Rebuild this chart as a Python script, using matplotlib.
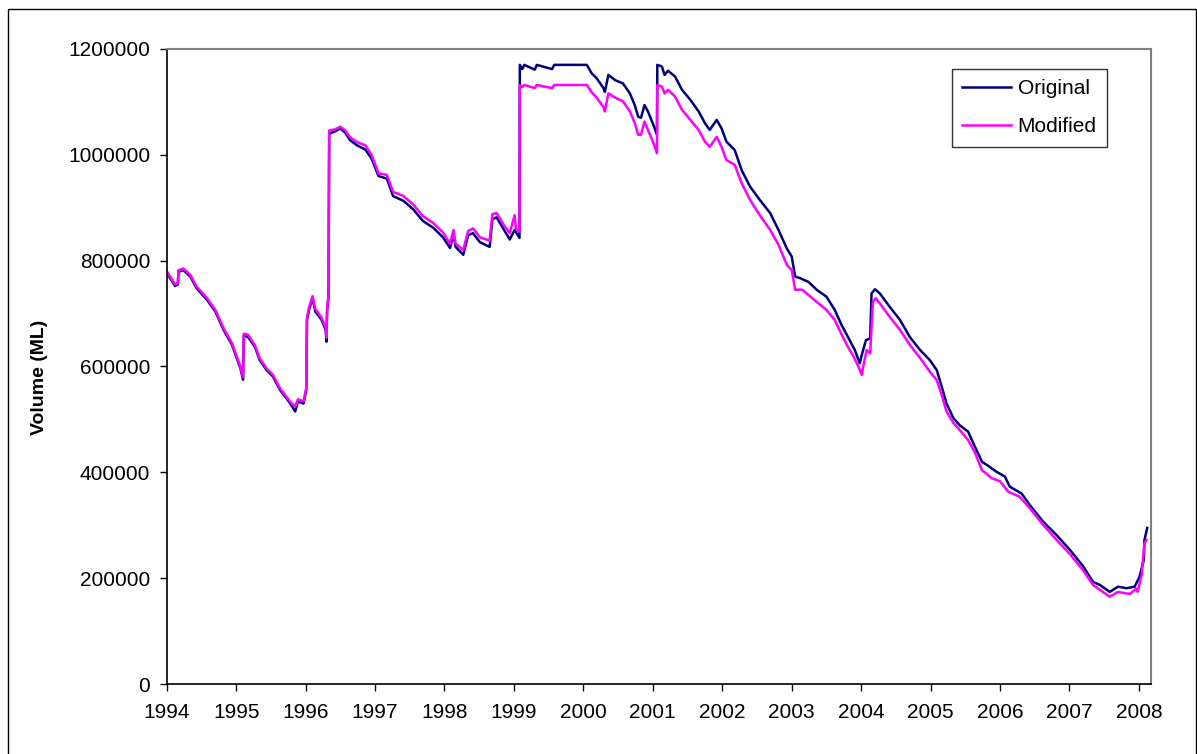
import matplotlib
matplotlib.use("Agg")
import matplotlib.pyplot as plt
from matplotlib.patches import Rectangle
from matplotlib.ticker import FuncFormatter

# ---- data (decimal year, volume in thousand ML) ----
orig_years = [1994.01, 1994.12, 1994.16, 1994.17, 1994.24, 1994.34, 1994.43, 1994.58, 1994.70, 1994.82,
              1994.94, 1995.06, 1995.10, 1995.11, 1995.17, 1995.27, 1995.34, 1995.44, 1995.53, 1995.63,
              1995.78, 1995.85, 1995.89, 1995.97, 1996.01, 1996.02, 1996.05, 1996.10, 1996.14, 1996.23,
              1996.29, 1996.30, 1996.31, 1996.33, 1996.34, 1996.42, 1996.50, 1996.57, 1996.64, 1996.74,
              1996.86, 1996.95, 1997.05, 1997.17, 1997.26, 1997.41, 1997.55, 1997.69, 1997.84, 1997.98,
              1998.08, 1998.13, 1998.16, 1998.27, 1998.34, 1998.41, 1998.51, 1998.65, 1998.69, 1998.75,
              1998.85, 1998.94, 1999.01, 1999.08, 1999.085, 1999.12, 1999.15, 1999.30, 1999.33, 1999.55,
              1999.58, 2000.05, 2000.12, 2000.19, 2000.29, 2000.31, 2000.36, 2000.46, 2000.57, 2000.67,
              2000.74, 2000.79, 2000.83, 2000.88, 2000.93, 2001.01, 2001.06, 2001.065, 2001.13, 2001.17,
              2001.22, 2001.32, 2001.42, 2001.54, 2001.66, 2001.75, 2001.82, 2001.92, 2001.99, 2002.06,
              2002.18, 2002.28, 2002.40, 2002.54, 2002.69, 2002.81, 2002.93, 2003.00, 2003.05, 2003.12,
              2003.24, 2003.36, 2003.50, 2003.62, 2003.72, 2003.81, 2003.91, 2003.98, 2004.01, 2004.07,
              2004.13, 2004.15, 2004.20, 2004.27, 2004.41, 2004.56, 2004.70, 2004.85, 2004.99, 2005.09,
              2005.16, 2005.23, 2005.33, 2005.42, 2005.54, 2005.64, 2005.74, 2005.81, 2005.95, 2006.07,
              2006.14, 2006.31, 2006.43, 2006.62, 2006.81, 2007.01, 2007.20, 2007.34, 2007.44, 2007.58,
              2007.70, 2007.82, 2007.94, 2008.01, 2008.07, 2008.08, 2008.12]
orig_kml = [775, 752, 755, 779, 782, 770, 748, 726, 704, 669,
            641, 597, 575, 658, 656, 637, 612, 593, 581, 556,
            530, 515, 534, 530, 556, 688, 707, 729, 704, 688,
            669, 647, 705, 732, 1040, 1044, 1050, 1042, 1028, 1018,
            1010, 993, 960, 955, 922, 913, 897, 875, 862, 844,
            824, 850, 826, 811, 848, 852, 835, 826, 878, 882,
            860, 840, 858, 843, 1170, 1162, 1170, 1161, 1170, 1162,
            1170, 1170, 1154, 1145, 1126, 1119, 1151, 1141, 1135, 1116,
            1094, 1072, 1070, 1094, 1082, 1056, 1038, 1170, 1167, 1151,
            1159, 1148, 1123, 1104, 1082, 1060, 1047, 1066, 1050, 1025,
            1009, 971, 940, 915, 890, 858, 823, 808, 770, 767,
            760, 745, 732, 707, 678, 656, 631, 606, 622, 650,
            653, 738, 746, 738, 713, 688, 656, 631, 612, 593,
            562, 530, 502, 489, 477, 448, 420, 414, 401, 392,
            373, 360, 338, 307, 282, 253, 222, 193, 187, 174,
            184, 181, 184, 203, 234, 272, 295]

mod_years = [1994.01, 1994.12, 1994.16, 1994.17, 1994.24, 1994.34, 1994.43, 1994.58, 1994.70, 1994.82,
             1994.94, 1995.06, 1995.10, 1995.11, 1995.17, 1995.27, 1995.34, 1995.44, 1995.53, 1995.63,
             1995.78, 1995.85, 1995.89, 1995.97, 1996.01, 1996.02, 1996.05, 1996.10, 1996.14, 1996.23,
             1996.29, 1996.30, 1996.31, 1996.33, 1996.34, 1996.42, 1996.50, 1996.57, 1996.64, 1996.74,
             1996.86, 1996.95, 1997.05, 1997.17, 1997.26, 1997.41, 1997.55, 1997.69, 1997.84, 1997.98,
             1998.08, 1998.13, 1998.16, 1998.27, 1998.34, 1998.41, 1998.51, 1998.65, 1998.69, 1998.75,
             1998.85, 1998.94, 1999.01, 1999.03, 1999.08, 1999.085, 1999.12, 1999.15, 1999.30, 1999.33,
             1999.55, 1999.58, 2000.05, 2000.12, 2000.19, 2000.29, 2000.31, 2000.36, 2000.46, 2000.57,
             2000.67, 2000.74, 2000.79, 2000.83, 2000.88, 2000.93, 2001.01, 2001.06, 2001.065, 2001.13,
             2001.17, 2001.22, 2001.32, 2001.42, 2001.54, 2001.66, 2001.75, 2001.82, 2001.92, 2001.99,
             2002.06, 2002.18, 2002.28, 2002.40, 2002.54, 2002.69, 2002.81, 2002.93, 2003.00, 2003.05,
             2003.15, 2003.36, 2003.50, 2003.62, 2003.72, 2003.81, 2003.89, 2003.96, 2004.01, 2004.03,
             2004.08, 2004.13, 2004.17, 2004.21, 2004.27, 2004.41, 2004.56, 2004.70, 2004.85, 2004.99,
             2005.09, 2005.16, 2005.23, 2005.33, 2005.42, 2005.54, 2005.64, 2005.74, 2005.88, 2006.00,
             2006.12, 2006.28, 2006.43, 2006.62, 2006.81, 2007.01, 2007.20, 2007.34, 2007.48, 2007.58,
             2007.70, 2007.87, 2007.96, 2007.98, 2008.04, 2008.08, 2008.11]
mod_kml = [778, 755, 758, 782, 785, 773, 751, 729, 707, 672,
           644, 600, 580, 662, 660, 640, 615, 596, 584, 559,
           533, 524, 538, 534, 560, 692, 712, 733, 709, 692,
           673, 655, 710, 735, 1046, 1048, 1053, 1046, 1033, 1024,
           1018, 1000, 965, 962, 930, 922, 906, 884, 871, 853,
           832, 858, 832, 820, 856, 861, 844, 838, 888, 890,
           868, 852, 886, 860, 855, 1132, 1128, 1132, 1126, 1132,
           1126, 1132, 1132, 1118, 1108, 1090, 1082, 1116, 1108, 1101,
           1082, 1060, 1038, 1038, 1063, 1047, 1022, 1003, 1132, 1129,
           1116, 1123, 1110, 1085, 1066, 1047, 1025, 1015, 1034, 1015,
           990, 981, 946, 915, 886, 858, 830, 792, 782, 745,
           745, 722, 707, 688, 660, 637, 619, 600, 584, 600,
           631, 625, 722, 729, 719, 694, 669, 641, 616, 590,
           574, 546, 515, 493, 480, 461, 437, 404, 389, 383,
           363, 354, 332, 301, 273, 245, 214, 187, 174, 165,
           174, 170, 180, 174, 206, 266, 272]

series_names = ["Original", "Modified"]
x_ticks = list(range(1994, 2009))
y_ticks = [0, 200000, 400000, 600000, 800000, 1000000, 1200000]

# ---- figure ----
W, H = 1197, 754
fig = plt.figure(figsize=(W / 100, H / 100), dpi=100)
plt.rcParams['font.family'] = ['Liberation Sans', 'DejaVu Sans']

ax = fig.add_axes([166.7 / W, 1 - 684 / H, (1150.7 - 166.7) / W, (684 - 49) / H])

ax.plot(orig_years, [v * 1000 for v in orig_kml], color='#000080', lw=1.8, label=series_names[0])
ax.plot(mod_years, [v * 1000 for v in mod_kml], color='#FF00FF', lw=1.8, label=series_names[1])

ax.set_xlim(1994, 2008.17)
ax.set_ylim(0, 1200000)
ax.set_xticks(x_ticks)
ax.set_xticklabels([str(t) for t in x_ticks])
ax.set_yticks(y_ticks)
ax.yaxis.set_major_formatter(FuncFormatter(lambda v, p: f"{int(v)}"))
ax.tick_params(axis='both', direction='out', length=5, width=1, labelsize=15, colors='black')
ax.tick_params(axis='x', pad=9)
ax.tick_params(axis='y', pad=7)

for s in ['left', 'bottom']:
    ax.spines[s].set_color('black')
    ax.spines[s].set_linewidth(1.2)
for s in ['top', 'right']:
    ax.spines[s].set_color('#808080')
    ax.spines[s].set_linewidth(1.5)

ax.set_ylabel("Volume (ML)", fontsize=14, fontweight='bold', labelpad=12)
ax.yaxis.set_label_coords(40 / W, 0.5, transform=fig.transFigure)
ax.yaxis.label.set_va('center')

leg = ax.legend(loc='upper left', bbox_to_anchor=(952 / W, 1 - 69 / H),
                bbox_transform=fig.transFigure, fontsize=15, frameon=True,
                fancybox=False, borderaxespad=0, handlelength=2.35,
                labelspacing=0.9, borderpad=0.5, handletextpad=0.3)
leg.get_frame().set_edgecolor('black')
leg.get_frame().set_linewidth(1.0)

# outer chart border
fig.patches.append(Rectangle((8 / W, -0.02), (1195.7 - 8) / W, 1 - 9 / H + 0.02,
                             transform=fig.transFigure, fill=False,
                             edgecolor='black', linewidth=1.0))

fig.savefig("out.png", dpi=100)
